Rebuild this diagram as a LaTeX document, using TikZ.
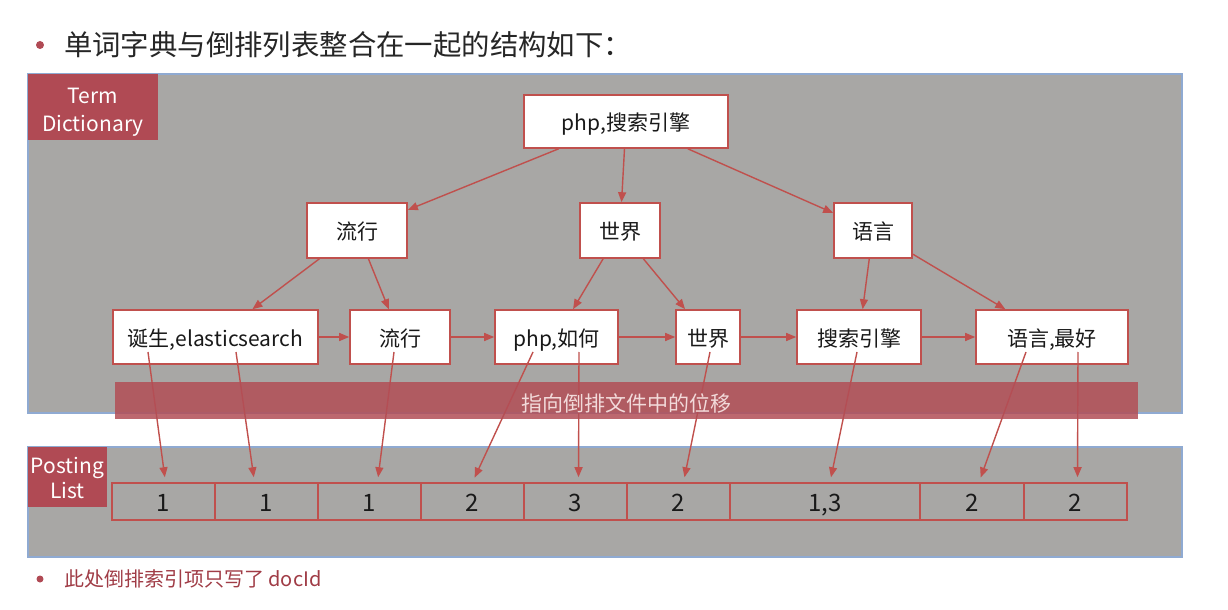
\documentclass[tikz,border=0pt]{standalone}
\usepackage{fontspec}
\setmainfont{Noto Sans CJK SC}
\usetikzlibrary{arrows.meta}
\definecolor{panelgray}{RGB}{168,167,165}
\definecolor{panelblue}{RGB}{143,170,210}
\definecolor{labelred}{RGB}{176,74,84}
\definecolor{linered}{RGB}{192,80,77}
\definecolor{bandred}{RGB}{178,78,86}
\definecolor{bandtext}{RGB}{242,218,218}
\definecolor{footred}{RGB}{160,60,70}
\definecolor{titleblack}{RGB}{38,38,38}
\begin{document}
\begin{tikzpicture}[x=0.5pt,y=-0.5pt,
    termbox/.style={draw=linered,line width=0.8pt,fill=white,inner sep=0pt,minimum height=27pt,text height=10.5pt,text depth=1.5pt,text=black!90,font=\fontsize{10.5}{12}\selectfont},
    postcell/.style={draw=linered,line width=0.8pt,inner sep=0pt,minimum height=18.5pt,text height=10.5pt,text depth=1pt,text=black!90,font=\fontsize{12}{14}\selectfont},
    link/.style={draw=linered,line width=0.7pt,-{Triangle[length=5pt,width=4pt]}},
    tagtext/.style={text=white,inner sep=0pt,align=center,font=\fontsize{10.5}{14}\selectfont},
    dotmark/.style={circle,fill=labelred,inner sep=0pt,minimum size=4pt}]
    \useasboundingbox (0,0) rectangle (1228,610);
    % Tiêu đề
    \node[dotmark] (dot1) at (40,45) {};
    \node[anchor=west,text=titleblack,font=\fontsize{14.2}{16}\selectfont] (title) at (57,45) {单词字典与倒排列表整合在一起的结构如下：};

    % Khung nền
    \draw[fill=panelgray,draw=panelblue,line width=0.6pt] (28,74) rectangle (1182,413);
    \draw[fill=panelgray,draw=panelblue,line width=0.6pt] (28,447) rectangle (1182,557);
    \fill[labelred] (28,74) rectangle (158,140);
    \fill[labelred] (28,447) rectangle (107,507);
    \node[tagtext] (dict) at (93,112) {Term\\Dictionary};
    \node[tagtext,font=\fontsize{10.5}{12.5}\selectfont] (plist) at (67.5,478) {Posting\\List};

    % Cây từ điển
    \node[termbox,minimum width=102pt,minimum height=26.5pt] (root) at (626,121.5) {php,搜索引擎};
    \node[termbox,minimum width=50pt,minimum height=27.5pt] (lx) at (357,230.5) {流行};
    \node[termbox,minimum width=40pt,minimum height=27.5pt] (sj) at (620,230.5) {世界};
    \node[termbox,minimum width=39pt,minimum height=27.5pt] (yy) at (873,230.5) {语言};

    \node[termbox,minimum width=102.5pt] (t1) at (215.5,337) {诞生,elasticsearch};
    \node[termbox,minimum width=50pt] (t2) at (400,337) {流行};
    \node[termbox,minimum width=61.5pt] (t3) at (556.5,337) {php,如何};
    \node[termbox,minimum width=32pt] (t4) at (708,337) {世界};
    \node[termbox,minimum width=62pt] (t5) at (859,337) {搜索引擎};
    \node[termbox,minimum width=76pt] (t6) at (1052,337) {语言,最好};

    % Mũi tên trong cây
    \draw[link] (root) -- (lx);
    \draw[link] (root) -- (sj);
    \draw[link] (root) -- (yy);
    \draw[link] (lx) -- (t1);
    \draw[link] (lx) -- (t2);
    \draw[link] (sj) -- (t3);
    \draw[link] (sj) -- (t4);
    \draw[link] (yy) -- (t5);
    \draw[link] (yy) -- (t6);
    \foreach \a/\b in {t1/t2,t2/t3,t3/t4,t4/t5,t5/t6}
    \draw[link] (\a) -- (\b);

    % Danh sách posting
    \foreach \i/\cx/\w/\v in {1/163.5/51.5/1,2/266.5/51.5/1,3/369.5/51.5/1,4/472.5/51.5/2,5/575.5/51.5/3,6/678.5/51.5/2,7/825/95/{1,3},8/972/52/2,9/1075.5/51.5/2}
    \node[postcell,minimum width=\w pt] (p\i) at (\cx,501.5) {\v};

    % Mũi tên xuống posting
    \foreach \i/\sx/\dx in {1/148/1,2/236/-6,3/394/4,4/533/0,5/579/1.5,6/710/2.5,7/857/2.5,8/1026/3.5,9/1078/1}{
    \coordinate (s\i) at (\sx,352);
    \draw[link,shorten >=2.5pt] (s\i) -- ([xshift=\dx pt]p\i.north);
    }

    % Dải chú thích
    \node[fill=bandred,fill opacity=0.85,text opacity=1,text=bandtext,minimum width=511.5pt,minimum height=18.5pt,inner sep=0pt,text height=12pt,text depth=1.5pt,font=\fontsize{10.5}{12}\selectfont] (band) at (626.5,400.5) {指向倒排文件中的位移};

    % Ghi chú
    \node[dotmark,minimum size=3.5pt] (dot2) at (40,579) {};
    \node[anchor=west,text=footred,font=\fontsize{10}{12}\selectfont] (note) at (57,579) {此处倒排索引项只写了 docId};
\end{tikzpicture}
\end{document}
